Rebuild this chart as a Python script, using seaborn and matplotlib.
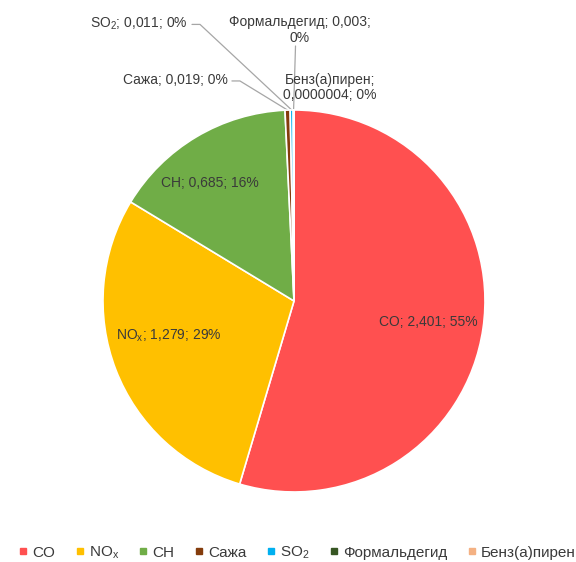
import numpy as np
import matplotlib
matplotlib.use("Agg")
import matplotlib.pyplot as plt
from matplotlib.lines import Line2D
import seaborn as sns

# emission masses per pollutant
pollutants = ["CO", "NO$_\\mathrm{x}$", "CH", "Сажа", "SO$_2$", "Формальдегид", "Бенз(а)пирен"]
values = [2.401, 1.279, 0.685, 0.019, 0.011, 0.003, 0.0000004]
value_text = ["2,401", "1,279", "0,685", "0,019", "0,011", "0,003", "0,0000004"]
colors = ["#FF5050", "#FFC000", "#70AD47", "#843C0C", "#00B0F0", "#375623", "#F4B183"]

sns.set_theme(style="white")
plt.rcParams["font.family"] = ["Liberation Sans", "DejaVu Sans"]
plt.rcParams["mathtext.fontset"] = "custom"
plt.rcParams["mathtext.rm"] = "Liberation Sans"
plt.rcParams["mathtext.it"] = "Liberation Sans:italic"

TEXT = "#3A3A3A"
LINE = "#A6A6A6"

fig = plt.figure(figsize=(5.76, 5.62), dpi=100)
ax = fig.add_axes([0.1788, 0.1246, 0.6632, 0.6797])

wedges, _ = ax.pie(values, colors=colors, startangle=90, counterclock=False,
                   wedgeprops=dict(edgecolor="white", linewidth=1.2))
ax.set_xlim(-1, 1)
ax.set_ylim(-1, 1)

total = sum(values)
pct = [f"{round(v / total * 100):.0f}%" for v in values]


def mid_dir(w):
    ang = np.deg2rad((w.theta1 + w.theta2) / 2)
    return np.cos(ang), np.sin(ang)


# big slices: label inside the wedge
inside_r = [0.71, 0.70, 0.72]
inside_shift = [(0, -0.01), (0, 0.07), (-0.07, 0)]
for i in range(3):
    dx, dy = mid_dir(wedges[i])
    x = dx * inside_r[i] + inside_shift[i][0]
    y = dy * inside_r[i] + inside_shift[i][1]
    ax.text(x, y, f"{pollutants[i]}; {value_text[i]}; {pct[i]}",
            ha="center", va="center", fontsize=10, color=TEXT)

# small slices: labels outside with leader lines
# (text x, text y, ha, leader points before the wedge edge)
outside = {
    3: (-0.346, 1.155, "right", [(-0.325, 1.152), (-0.283, 1.152)]),
    4: (-0.555, 1.452, "right", [(-0.534, 1.448), (-0.492, 1.448)]),
    5: (0.031, 1.418, "center", [(0.008, 1.335)]),
    6: (0.188, 1.118, "center", []),
}
for i, (tx, ty, ha, pts) in outside.items():
    if i == 5:
        label = f"{pollutants[i]}; {value_text[i]};\n{pct[i]}"
    elif i == 6:
        label = f"{pollutants[i]};\n{value_text[i]}; {pct[i]}"
    else:
        label = f"{pollutants[i]}; {value_text[i]}; {pct[i]}"
    ax.text(tx, ty, label, ha=ha, va="center", fontsize=10, color=TEXT,
            linespacing=1.15)
    if pts:
        dx, dy = mid_dir(wedges[i])
        xs = [p[0] for p in pts] + [dx]
        ys = [p[1] for p in pts] + [dy]
        ax.plot(xs, ys, color=LINE, linewidth=0.9, clip_on=False, zorder=0.5)

handles = [Line2D([], [], marker="s", linestyle="", markersize=4.5,
                  markerfacecolor=c, markeredgecolor=c) for c in colors]
fig.legend(handles, pollutants, loc="lower center", bbox_to_anchor=(0.516, -0.023),
           ncol=7, frameon=False, fontsize=11, handlelength=0.6,
           handletextpad=0.3, columnspacing=1.3, labelcolor=TEXT)

fig.savefig("out.png", dpi=100)
